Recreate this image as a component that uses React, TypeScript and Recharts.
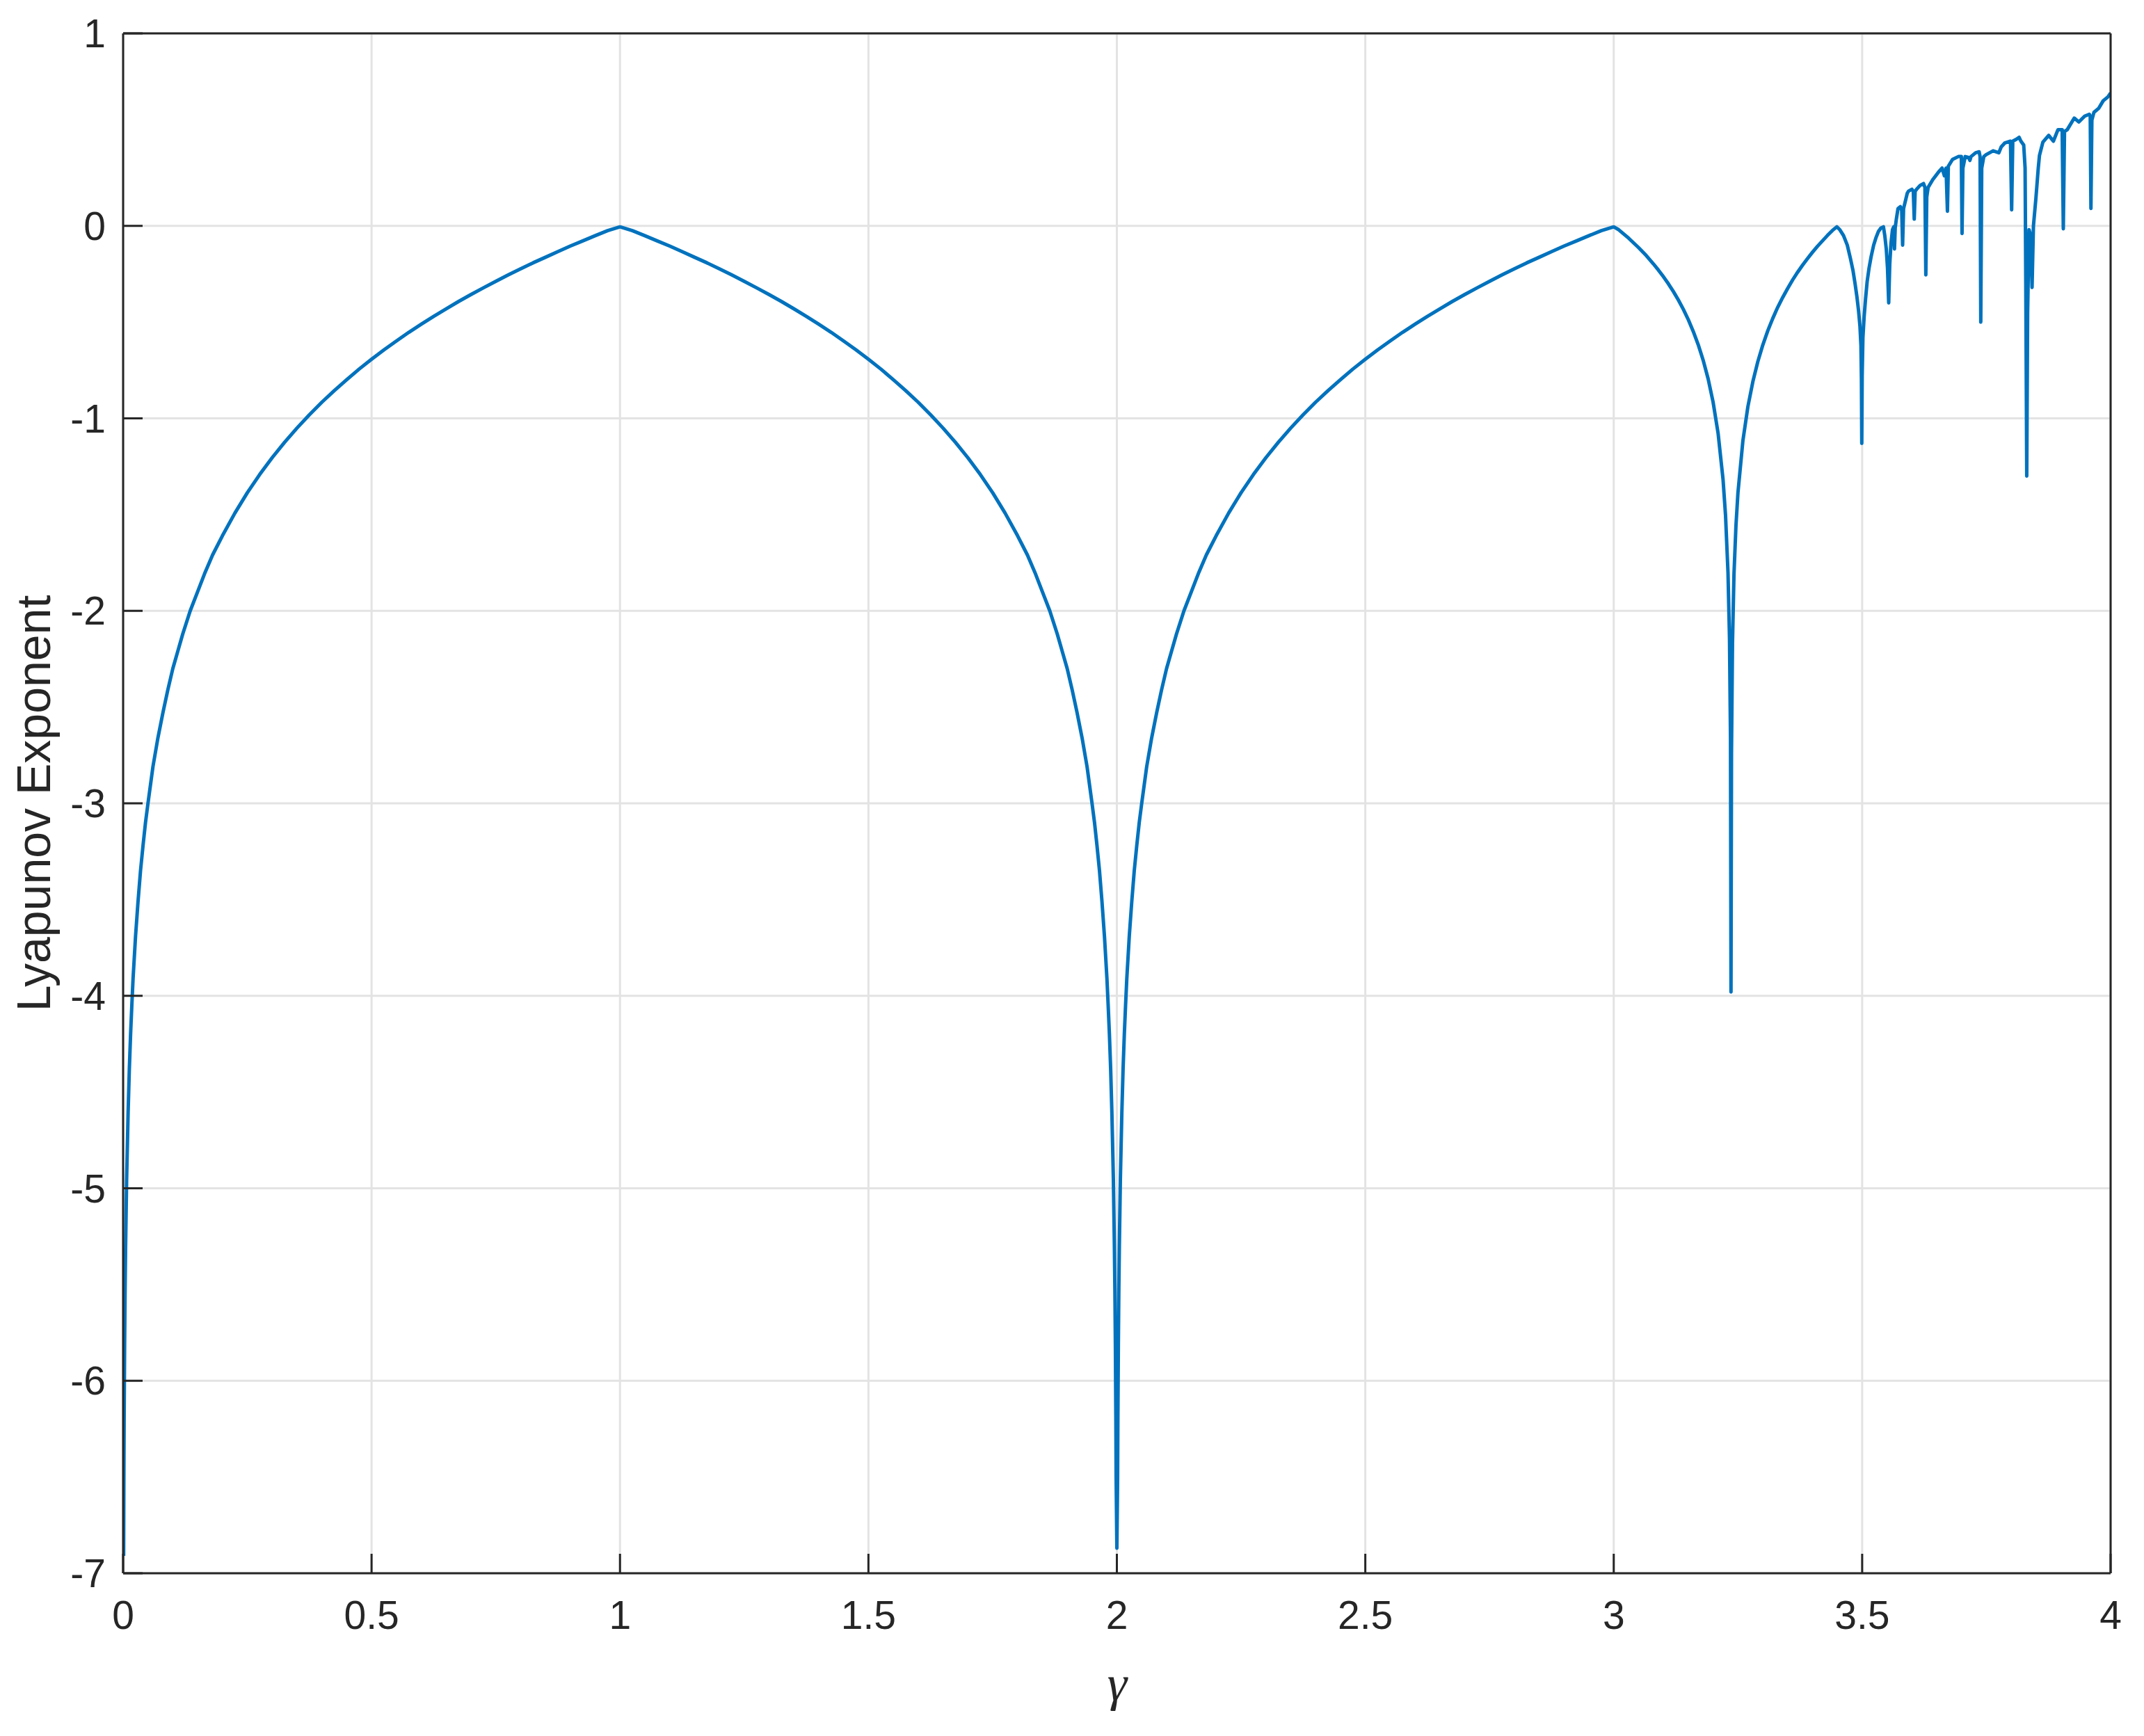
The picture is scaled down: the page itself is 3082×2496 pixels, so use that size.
import React from 'react';
import { LineChart, Line, XAxis, YAxis, CartesianGrid } from 'recharts';

// gamma (x) values
const gammaValues: number[] = [
  // 0 .. 1
  0.001, 0.0015, 0.002, 0.003, 0.004, 0.005, 0.007, 0.01, 0.0125, 0.015, 0.0175, 0.02, 0.025, 0.03, 0.035, 0.04, 0.045, 0.05,
  0.06, 0.07, 0.08, 0.09, 0.1, 0.11, 0.12, 0.135, 0.15, 0.165, 0.18,
  0.2, 0.225, 0.25, 0.275, 0.3, 0.325, 0.35, 0.375, 0.4, 0.425, 0.45, 0.475, 0.5, 0.525, 0.55, 0.575, 0.6, 0.625, 0.65,
  0.675, 0.7, 0.725, 0.75, 0.775, 0.8, 0.825, 0.85, 0.875, 0.9, 0.925, 0.95, 0.975, 1.0,
  // 1 .. 2
  1.025, 1.05, 1.075, 1.1, 1.125, 1.15, 1.175, 1.2, 1.225, 1.25, 1.275, 1.3, 1.325, 1.35, 1.375, 1.4, 1.425, 1.45, 1.475,
  1.5, 1.525, 1.55, 1.575, 1.6, 1.625, 1.65, 1.675, 1.7, 1.725, 1.75, 1.775, 1.8, 1.82, 1.835, 1.85, 1.865, 1.88, 1.89,
  1.9, 1.91, 1.92, 1.93, 1.94, 1.95, 1.955, 1.96, 1.965, 1.97, 1.975, 1.98, 1.9825, 1.985, 1.9875, 1.99, 1.993, 1.995,
  1.996, 1.997, 1.998, 1.9985, 2.0,
  // 2 .. 3
  2.0015, 2.002, 2.003, 2.004, 2.005, 2.007, 2.01, 2.0125, 2.015, 2.0175, 2.02, 2.025, 2.03, 2.035, 2.04, 2.045, 2.05,
  2.06, 2.07, 2.08, 2.09, 2.1, 2.11, 2.12, 2.135, 2.15, 2.165, 2.18,
  2.2, 2.225, 2.25, 2.275, 2.3, 2.325, 2.35, 2.375, 2.4, 2.425, 2.45, 2.475, 2.5, 2.525, 2.55, 2.575, 2.6, 2.625, 2.65,
  2.675, 2.7, 2.725, 2.75, 2.775, 2.8, 2.825, 2.85, 2.875, 2.9, 2.925, 2.95, 2.975, 3.0,
  // 3 .. 3.449
  3.01, 3.02, 3.03, 3.05, 3.065, 3.08, 3.09, 3.1, 3.11, 3.12, 3.13, 3.14, 3.15, 3.16, 3.17, 3.18, 3.19, 3.2, 3.21, 3.22,
  3.225, 3.23, 3.233, 3.235, 3.236, 3.237, 3.239, 3.242, 3.246, 3.25, 3.26, 3.27, 3.28, 3.29, 3.3, 3.31, 3.32, 3.33,
  3.34, 3.35, 3.36, 3.37, 3.38, 3.39, 3.4, 3.41, 3.42, 3.43, 3.44, 3.449,
  // period 4
  3.455, 3.4624, 3.47, 3.4764, 3.4814, 3.4857, 3.4895, 3.4927, 3.4955, 3.4975, 3.4985, 3.4992, 3.5, 3.5015, 3.504,
  3.5068, 3.51, 3.5138, 3.518, 3.5231, 3.528, 3.5325, 3.5375, 3.5428,
  // period 8, 16
  3.5455, 3.5485, 3.551, 3.5534, 3.5555, 3.558, 3.561, 3.5635, 3.565, 3.5665, 3.5685,
  // chaotic region
  3.5721, 3.5768, 3.5796, 3.5814, 3.5833, 3.5861, 3.5908, 3.5931, 3.6001, 3.6029, 3.6048, 3.6066, 3.6095, 3.6165,
  3.6235, 3.6263, 3.6281, 3.63, 3.6328, 3.6421, 3.6538, 3.6608, 3.6655, 3.6688, 3.6716, 3.6734, 3.6818, 3.6935,
  3.6996, 3.701, 3.7027, 3.7074, 3.7144, 3.7168, 3.7191, 3.7284, 3.7354, 3.7373, 3.7387, 3.7406, 3.7448, 3.7494,
  3.7635, 3.7751, 3.7798, 3.7868, 3.7985, 3.8008, 3.8031, 3.8102, 3.8158, 3.8195, 3.8251, 3.8279, 3.8293, 3.8312,
  3.833, 3.8358, 3.8391, 3.8419, 3.8447, 3.8497, 3.8544, 3.8568, 3.8637, 3.8754, 3.8848, 3.8941, 3.9025, 3.9048,
  3.9072, 3.9128, 3.9268, 3.9361, 3.9478, 3.9572, 3.959, 3.9604, 3.9623, 3.9665, 3.9758, 3.9851, 3.9945, 4.0,
];

// Lyapunov exponent values
const lyapunovValues: number[] = [
  // 0 .. 1
  -6.91, -6.5, -6.21, -5.81, -5.52, -5.3, -4.96, -4.61, -4.38, -4.2, -4.05, -3.91, -3.69, -3.51, -3.35, -3.22, -3.1, -3.0,
  -2.81, -2.66, -2.53, -2.41, -2.3, -2.21, -2.12, -2.0, -1.9, -1.8, -1.71,
  -1.609, -1.492, -1.386, -1.291, -1.204, -1.124, -1.05, -0.981, -0.916, -0.856, -0.799, -0.744, -0.693, -0.644, -0.598,
  -0.553, -0.511, -0.47, -0.431, -0.393, -0.357, -0.322, -0.288, -0.255, -0.223, -0.192, -0.163, -0.134, -0.105, -0.078,
  -0.051, -0.025, -0.005,
  // 1 .. 2
  -0.025, -0.051, -0.078, -0.105, -0.134, -0.163, -0.192, -0.223, -0.255, -0.288, -0.322, -0.357, -0.393, -0.431, -0.47,
  -0.511, -0.553, -0.598, -0.644, -0.693, -0.744, -0.799, -0.856, -0.916, -0.981, -1.05, -1.124, -1.204, -1.291, -1.386,
  -1.492, -1.609, -1.71, -1.8, -1.9, -2.0, -2.12, -2.21, -2.3, -2.41, -2.53, -2.66, -2.81, -3.0, -3.1, -3.22, -3.35,
  -3.51, -3.69, -3.91, -4.05, -4.2, -4.38, -4.61, -4.96, -5.3, -5.52, -5.81, -6.21, -6.5, -6.87,
  // 2 .. 3
  -6.5, -6.21, -5.81, -5.52, -5.3, -4.96, -4.61, -4.38, -4.2, -4.05, -3.91, -3.69, -3.51, -3.35, -3.22, -3.1, -3.0,
  -2.81, -2.66, -2.53, -2.41, -2.3, -2.21, -2.12, -2.0, -1.9, -1.8, -1.71,
  -1.609, -1.492, -1.386, -1.291, -1.204, -1.124, -1.05, -0.981, -0.916, -0.856, -0.799, -0.744, -0.693, -0.644, -0.598,
  -0.553, -0.511, -0.47, -0.431, -0.393, -0.357, -0.322, -0.288, -0.255, -0.223, -0.192, -0.163, -0.134, -0.105, -0.078,
  -0.051, -0.025, -0.005,
  // 3 .. 3.449
  -0.02, -0.042, -0.064, -0.113, -0.153, -0.198, -0.23, -0.264, -0.301, -0.341, -0.385, -0.433, -0.487, -0.548, -0.617,
  -0.698, -0.795, -0.916, -1.077, -1.318,
  -1.504, -1.804, -2.146, -2.67, -3.98, -2.74, -2.17, -1.81, -1.556, -1.386, -1.115, -0.939, -0.809, -0.705, -0.619,
  -0.545, -0.481, -0.423, -0.372, -0.325, -0.281, -0.241, -0.204, -0.17, -0.137, -0.106, -0.078, -0.05, -0.024, -0.005,
  // period 4
  -0.02, -0.05, -0.1, -0.17, -0.23, -0.3, -0.37, -0.44, -0.52, -0.62, -0.8, -1.13, -0.78, -0.58, -0.47,
  -0.38, -0.29, -0.22, -0.16, -0.1, -0.06, -0.03, -0.012, -0.005,
  // period 8, 16
  -0.05, -0.12, -0.22, -0.4, -0.2, -0.09, -0.02, -0.005, -0.12, -0.01, 0.03,
  // chaotic region
  0.09, 0.1, 0.08, -0.1, 0.09, 0.12, 0.17, 0.18, 0.19, 0.18, 0.035, 0.18, 0.19, 0.21,
  0.22, 0.2, -0.255, 0.15, 0.2, 0.24, 0.28, 0.3, 0.26, 0.3, 0.076, 0.31, 0.345, 0.36,
  0.36, -0.04, 0.3, 0.36, 0.355, 0.34, 0.36, 0.38, 0.385, 0.36, -0.5, 0.3, 0.36, 0.37,
  0.39, 0.38, 0.41, 0.43, 0.44, 0.083, 0.44, 0.45, 0.46, 0.44, 0.42, 0.3, -0.3, -1.3,
  -0.45, -0.02, -0.05, -0.32, 0.0, 0.145, 0.3, 0.365, 0.435, 0.47, 0.44, 0.5, 0.5, -0.015,
  0.49, 0.5, 0.56, 0.54, 0.57, 0.58, 0.57, 0.09, 0.55, 0.59, 0.61, 0.65, 0.67, 0.69,
];

const xTicks: number[] = [0, 0.5, 1, 1.5, 2, 2.5, 3, 3.5, 4];
const yTicks: number[] = [-7, -6, -5, -4, -3, -2, -1, 0, 1];
const xAxisTitle = 'γ';
const yAxisTitle = 'Lyapunov Exponent';

const data = gammaValues.map((g, i) => ({ gamma: g, lyap: lyapunovValues[i] }));

const AXIS_COLOR = '#262626';
const FONT = "'Liberation Sans', Arial, Helvetica, sans-serif";
const W = 3060;
const H = 2470;

export default function App() {
  const axisLine = { stroke: AXIS_COLOR, strokeWidth: 3 };
  const tickLine = { stroke: AXIS_COLOR, strokeWidth: 3 };
  const tickStyle = { fill: AXIS_COLOR, fontSize: 57, fontFamily: FONT };
  return (
    <div style={{ position: 'relative', width: W, height: H }}>
      <LineChart width={W} height={H} data={data} margin={{ top: 0, right: 0, bottom: 0, left: 0 }}>
        <CartesianGrid stroke="#e3e3e3" strokeWidth={3} />
        <XAxis
          dataKey="gamma"
          type="number"
          domain={[0, 4]}
          ticks={xTicks}
          allowDataOverflow
          height={216}
          axisLine={axisLine}
          tickLine={tickLine}
          tickSize={-28}
          tickMargin={68}
          tick={tickStyle}
          interval={0}
        />
        <XAxis
          xAxisId="top"
          orientation="top"
          dataKey="gamma"
          type="number"
          domain={[0, 4]}
          ticks={xTicks}
          allowDataOverflow
          height={40}
          axisLine={axisLine}
          tickLine={tickLine}
          tickSize={-28}
          tick={false}
          interval={0}
        />
        <YAxis
          type="number"
          domain={[-7, 1]}
          ticks={yTicks}
          allowDataOverflow
          width={169}
          axisLine={axisLine}
          tickLine={tickLine}
          tickSize={-28}
          tickMargin={53}
          tick={tickStyle}
          interval={0}
        />
        <YAxis
          yAxisId="right"
          orientation="right"
          type="number"
          domain={[-7, 1]}
          ticks={yTicks}
          allowDataOverflow
          width={34}
          axisLine={axisLine}
          tickLine={tickLine}
          tickSize={-28}
          tick={false}
          interval={0}
        />
        <Line
          type="linear"
          dataKey="lyap"
          stroke="#0072BD"
          strokeWidth={5}
          strokeLinejoin="round"
          dot={false}
          activeDot={false}
          isAnimationActive={false}
        />
      </LineChart>
      <svg
        width={W}
        height={H}
        style={{ position: 'absolute', left: 0, top: 0, pointerEvents: 'none' }}
      >
        <text
          x={64}
          y={1147}
          transform="rotate(-90 64 1147)"
          textAnchor="middle"
          fontSize={68}
          fontFamily={FONT}
          fill={AXIS_COLOR}
        >
          {yAxisTitle}
        </text>
        <text
          x={1598}
          y={2437}
          textAnchor="middle"
          fontSize={72}
          fontStyle="italic"
          fontFamily="'Liberation Serif', 'DejaVu Serif', serif"
          fill={AXIS_COLOR}
        >
          {xAxisTitle}
        </text>
      </svg>
    </div>
  );
}
